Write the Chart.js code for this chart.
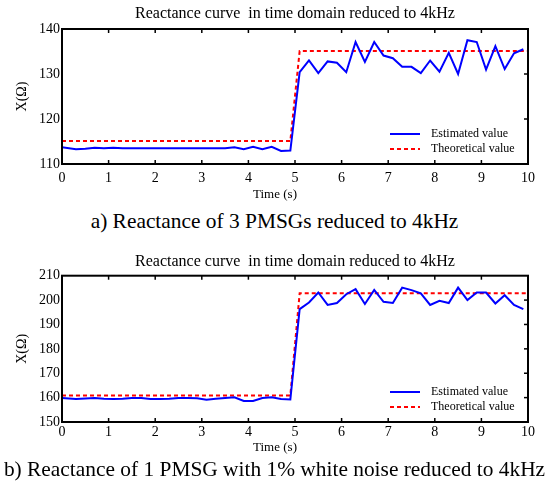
<!DOCTYPE html>
<html lang="en">
  <head>
    <meta charset="UTF-8" />
    <title>Reactance curves reduced to 4kHz</title>
    <script src="https://cdn.jsdelivr.net/npm/chart.js"></script>
    <style>
      body {
        margin: 0;
        width: 549px;
        height: 485px;
        position: relative;
        overflow: hidden;
        background: #fff;
        color: #000;
        font-family: "Liberation Serif", "Times New Roman", serif;
      }
      .box {
        position: absolute;
        left: 0;
        width: 549px;
      }
      #boxA { top: 0; height: 205px; }
      #boxB { top: 240px; height: 220px; }
      .caption {
        position: absolute;
        left: 0;
        width: 549px;
        text-align: center;
        font-size: 21.4px;
        line-height: 24px;
        white-space: nowrap;
      }
      #capA { top: 209px; }
      #capB { top: 457px; }
    </style>
  </head>
  <body>
    <div class="box" id="boxA"><canvas id="chartA"></canvas></div>
    <div class="caption" id="capA">a) Reactance of 3 PMSGs reduced to 4kHz</div>
    <div class="box" id="boxB"><canvas id="chartB"></canvas></div>
    <div class="caption" id="capB">b) Reactance of 1 PMSG with 1% white noise reduced to 4kHz</div>

    <script>
      const chartTitle = "Reactance curve  in time domain reduced to 4kHz";
      const seriesLabels = ["Estimated value", "Theoretical value"];

      // sample times (s) of the estimated curve
      const timeEst = [
        0, 0.3, 0.5, 0.7, 0.9, 1.1, 1.3, 1.5, 1.7, 1.9, 2.1, 2.3, 2.5, 2.7,
        2.9, 3.1, 3.3, 3.5, 3.7, 3.9, 4.1, 4.3, 4.5, 4.7, 4.9,
        5.1, 5.3, 5.5, 5.7, 5.9, 6.1, 6.3, 6.5, 6.7, 6.9, 7.1, 7.3, 7.5, 7.7,
        7.9, 8.1, 8.3, 8.5, 8.7, 8.9, 9.1, 9.3, 9.5, 9.7, 9.9,
      ];
      // corner times of the theoretical step
      const timeTheo = [0, 4.9, 5.1, 10];

      // a) 3 PMSGs
      const estA = [
        113.7, 113.3, 113.4, 113.6, 113.5, 113.6, 113.5, 113.5, 113.5, 113.5,
        113.5, 113.5, 113.5, 113.5, 113.5, 113.5, 113.5, 113.5, 113.7, 113.3,
        113.8, 113.3, 113.8, 112.9, 113.0,
        130.4, 133.0, 130.2, 132.8, 132.5, 130.4, 137.1, 132.7, 137.1, 134.1,
        133.5, 131.6, 131.6, 130.2, 133.0, 130.5, 134.7, 130.0, 137.5, 137.1,
        131.0, 136.2, 131.1, 134.6, 135.5,
      ];
      const theoA = [115.1, 115.1, 135.1, 135.1];

      // b) 1 PMSG, 1% white noise
      const estB = [
        159.8, 159.4, 159.6, 159.8, 159.5, 159.4, 159.5, 159.8, 159.8, 159.4,
        159.4, 159.5, 159.8, 159.8, 159.7, 159.1, 159.5, 159.8, 160.1, 158.6,
        158.6, 159.8, 160.1, 159.4, 159.2,
        196.3, 199.0, 203.1, 198.0, 198.8, 202.4, 204.5, 198.4, 204.2, 199.3,
        198.8, 205.1, 204.1, 202.8, 198.0, 199.7, 198.8, 205.1, 200.0, 203.1,
        203.1, 198.6, 202.0, 198.0, 196.3,
      ];
      const theoB = [160.9, 160.9, 202.8, 202.8];

      const serif = '"Liberation Serif", "Times New Roman", serif';
      Chart.defaults.color = "#000";
      Chart.defaults.font.family = serif;

      // boxed axes with inward ticks, inline legend and x-axis title
      const paperAxes = {
        id: "paperAxes",
        afterDraw(chart, args, opts) {
          const { ctx, chartArea: a, scales } = chart;
          const seg = (x1, y1, x2, y2) => {
            ctx.beginPath();
            ctx.moveTo(x1, y1);
            ctx.lineTo(x2, y2);
            ctx.stroke();
          };
          ctx.save();
          ctx.strokeStyle = "#000";
          ctx.lineWidth = 1.5;
          scales.x.ticks.forEach((t) => {
            if (t.value <= scales.x.min || t.value >= scales.x.max) return;
            const px = scales.x.getPixelForValue(t.value);
            seg(px, a.top, px, a.top + 4);
            seg(px, a.bottom, px, a.bottom - 4);
          });
          scales.y.ticks.forEach((t) => {
            if (t.value <= scales.y.min || t.value >= scales.y.max) return;
            const py = scales.y.getPixelForValue(t.value);
            seg(a.right, py, a.right - 4, py);
          });
          ctx.lineWidth = 2;
          ctx.strokeRect(a.left, a.top, a.right - a.left, a.bottom - a.top);

          ctx.font = "12px " + serif;
          ctx.textBaseline = "middle";
          ctx.textAlign = "left";
          chart.data.datasets.forEach((ds, i) => {
            const y = a.bottom - opts.legendRows[i];
            ctx.strokeStyle = ds.borderColor;
            ctx.lineWidth = 2;
            ctx.setLineDash(ds.borderDash || []);
            seg(a.right - 138, y, a.right - 108, y);
            ctx.setLineDash([]);
            ctx.fillStyle = "#000";
            ctx.fillText(ds.label, a.right - 97, y);
          });

          ctx.font = "13px " + serif;
          ctx.textAlign = "center";
          ctx.fillText(opts.xTitle, opts.xTitleX, opts.xTitleY);
          ctx.restore();
        },
      };

      function makeChart(id, est, theo, cfg) {
        return new Chart(document.getElementById(id), {
          type: "line",
          data: {
            datasets: [
              {
                label: seriesLabels[0],
                data: timeEst.map((t, i) => ({ x: t, y: est[i] })),
                borderColor: "#0000ff",
                borderWidth: 2,
                pointRadius: 0,
                tension: 0,
              },
              {
                label: seriesLabels[1],
                data: timeTheo.map((t, i) => ({ x: t, y: theo[i] })),
                borderColor: "#ff0000",
                borderWidth: 2,
                borderDash: [4, 3],
                pointRadius: 0,
                tension: 0,
              },
            ],
          },
          options: {
            responsive: true,
            maintainAspectRatio: false,
            animation: false,
            layout: { padding: { left: 0, right: 21, top: 0, bottom: 0 } },
            plugins: {
              legend: { display: false },
              tooltip: { enabled: false },
              title: {
                display: true,
                text: chartTitle,
                fullSize: false,
                color: "#000",
                font: { family: serif, size: 16, weight: "normal" },
                padding: { top: cfg.titleTop, bottom: cfg.titleBottom },
              },
              paperAxes: {
                legendRows: [30, 15],
                xTitle: "Time (s)",
                xTitleX: 275,
                xTitleY: cfg.xTitleY,
              },
            },
            scales: {
              x: {
                type: "linear",
                min: 0,
                max: 10,
                grid: { display: false, drawTicks: false },
                border: { display: false },
                ticks: {
                  stepSize: 1,
                  padding: cfg.xPad,
                  maxRotation: 0,
                  font: { family: serif, size: 14 },
                },
                afterFit: (s) => {
                  s.height = cfg.xHeight;
                },
              },
              y: {
                min: cfg.yMin,
                max: cfg.yMax,
                grid: { display: false, drawTicks: false },
                border: { display: false },
                ticks: {
                  stepSize: 10,
                  padding: 2,
                  font: { family: serif, size: 14 },
                },
                title: {
                  display: true,
                  text: "X(Ω)",
                  font: { family: serif, size: 14 },
                  padding: { top: 14, bottom: 0 },
                },
                afterFit: (s) => {
                  s.width = 62;
                },
              },
            },
          },
          plugins: [paperAxes],
        });
      }

      makeChart("chartA", estA, theoA, {
        yMin: 110, yMax: 140,
        titleTop: 4.4, titleBottom: 5.4,
        xPad: 6, xHeight: 41, xTitleY: 195,
      });
      makeChart("chartB", estB, theoB, {
        yMin: 150, yMax: 210,
        titleTop: 12.1, titleBottom: 4.4,
        xPad: 2, xHeight: 38, xTitleY: 207.7,
      });
    </script>
  </body>
</html>
